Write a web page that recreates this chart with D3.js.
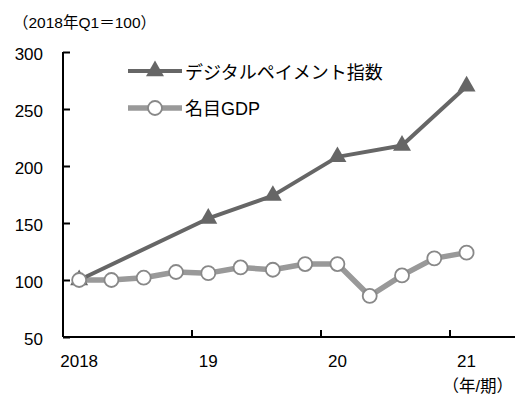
<!DOCTYPE html>
<html>
<head>
<meta charset="utf-8">
<script src="https://cdn.jsdelivr.net/npm/d3@7"></script>
<style>
  html, body { margin: 0; padding: 0; background: #fff; }
  svg text { font-family: "Liberation Sans", Arial, "Noto Sans CJK JP", sans-serif; fill: #000; }
</style>
</head>
<body>
<svg id="chart" width="515" height="396"></svg>
<script>
// Quarterly periods, 2018Q1 .. 2021Q2 (the last slot is left empty)
const quarters = ["2018Q1","2018Q2","2018Q3","2018Q4","2019Q1","2019Q2","2019Q3","2019Q4",
                  "2020Q1","2020Q2","2020Q3","2020Q4","2021Q1","2021Q2"];
const yearLabels = ["2018", "19", "20", "21"];
const yearStartQuarters = ["2018Q1", "2019Q1", "2020Q1", "2021Q1"];

// Digital payment index (semiannual observations)
const paymentPeriods = ["2018Q1","2019Q1","2019Q3","2020Q1","2020Q3","2021Q1"];
const paymentValues  = [100, 154, 174, 208, 218, 270];

// Nominal GDP index
const gdpPeriods = ["2018Q1","2018Q2","2018Q3","2018Q4","2019Q1","2019Q2","2019Q3","2019Q4",
                    "2020Q1","2020Q2","2020Q3","2020Q4","2021Q1"];
const gdpValues  = [100, 100, 102, 107, 106, 111, 109, 114, 114, 86, 104, 119, 124];

const yTicks = [50, 100, 150, 200, 250, 300];

const svg = d3.select("#chart");
const plotLeft = 63, plotRight = 515, plotTop = 52, plotBottom = 337;
const jpFont = "Noto Sans CJK JP, sans-serif";

const x = d3.scaleBand().domain(quarters).range([plotLeft, plotRight]).padding(0);
const y = d3.scaleLinear().domain([50, 300]).range([plotBottom, plotTop]);
const cx = q => x(q) + x.bandwidth() / 2;

// Y axis (ticks point into the plot)
const yAxis = d3.axisLeft(y).tickValues(yTicks).tickSize(-7).tickPadding(20);
const gy = svg.append("g").attr("transform", `translate(${plotLeft},0)`).call(yAxis);
gy.select(".domain").attr("d", `M0,${plotTop}V${plotBottom}`).attr("stroke", "#000").attr("stroke-width", 2);
gy.selectAll(".tick line").attr("stroke", "#000").attr("stroke-width", 2);
gy.selectAll(".tick text").attr("font-size", 17).attr("dy", "0.45em")
  .attr("fill", "#000").attr("font-family", "Liberation Sans, Arial, sans-serif");

// X axis: ticks at year boundaries, labels under each year's first quarter
const gx = svg.append("g").attr("transform", `translate(0,${plotBottom})`);
gx.append("line").attr("x1", plotLeft).attr("x2", plotRight).attr("y1", 0).attr("y2", 0)
  .attr("stroke", "#000").attr("stroke-width", 2);
gx.selectAll("line.tk").data(yearStartQuarters).join("line").attr("class", "tk")
  .attr("x1", d => Math.round(x(d))).attr("x2", d => Math.round(x(d))).attr("y1", 0).attr("y2", -7)
  .attr("stroke", "#000").attr("stroke-width", 2);
gx.selectAll("text").data(yearLabels).join("text")
  .attr("x", (d, i) => cx(yearStartQuarters[i])).attr("y", 30)
  .attr("text-anchor", "middle").attr("font-size", 17)
  .text(d => d);

// Lines
const line = d3.line().x(d => cx(d[0])).y(d => y(d[1]));
const gdpData = gdpPeriods.map((p, i) => [p, gdpValues[i]]);
const payData = paymentPeriods.map((p, i) => [p, paymentValues[i]]);

const gdpLine = "#999999", payLine = "#666666", circleStroke = "#888888";

svg.append("path").datum(gdpData).attr("d", line)
  .attr("fill", "none").attr("stroke", gdpLine).attr("stroke-width", 5.5).attr("stroke-linejoin", "round");
svg.append("path").datum(payData).attr("d", line)
  .attr("fill", "none").attr("stroke", payLine).attr("stroke-width", 4).attr("stroke-linejoin", "round");

const tri = d3.symbol().type(d3.symbolTriangle).size(140);
svg.selectAll("path.tri").data(payData).join("path").attr("class", "tri")
  .attr("d", tri).attr("fill", payLine)
  .attr("transform", d => `translate(${cx(d[0])},${y(d[1])})`);

svg.selectAll("circle.gdp").data(gdpData).join("circle").attr("class", "gdp")
  .attr("cx", d => cx(d[0])).attr("cy", d => y(d[1])).attr("r", 7)
  .attr("fill", "#fff").attr("stroke", circleStroke).attr("stroke-width", 1.8);

// Legend
const lg = svg.append("g");
lg.append("line").attr("x1", 128).attr("x2", 182).attr("y1", 71).attr("y2", 71)
  .attr("stroke", payLine).attr("stroke-width", 4);
lg.append("path").attr("d", tri).attr("fill", payLine).attr("transform", "translate(155,71)");
lg.append("text").attr("x", 185).attr("y", 79).attr("font-size", 18)
  .attr("font-family", jpFont).text("デジタルペイメント指数");

lg.append("line").attr("x1", 128).attr("x2", 182).attr("y1", 108).attr("y2", 108)
  .attr("stroke", gdpLine).attr("stroke-width", 5.5);
lg.append("circle").attr("cx", 155).attr("cy", 108).attr("r", 7)
  .attr("fill", "#fff").attr("stroke", circleStroke).attr("stroke-width", 1.8);
lg.append("text").attr("x", 185).attr("y", 115).attr("font-size", 18)
  .attr("font-family", jpFont).text("名目GDP");

// Unit notes
svg.append("text").attr("x", 13).attr("y", 28).attr("font-size", 15.5)
  .attr("font-family", jpFont).text("（2018年Q1＝100）");
svg.append("text").attr("x", 513).attr("y", 392).attr("text-anchor", "end").attr("font-size", 16.5)
  .attr("font-family", jpFont).text("（年/期）");
</script>
</body>
</html>
